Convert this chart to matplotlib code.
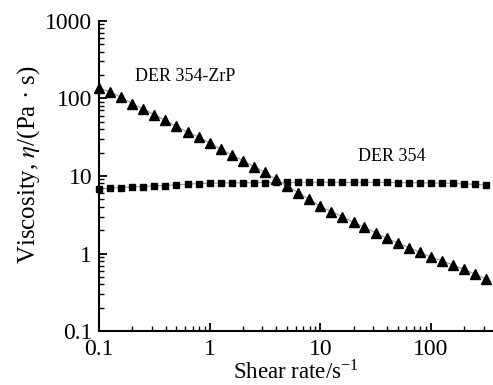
import numpy as np
import matplotlib
matplotlib.use("Agg")
import matplotlib.pyplot as plt
from matplotlib.ticker import LogLocator, FuncFormatter, NullFormatter

plt.rcParams["font.family"] = ["Liberation Serif", "DejaVu Serif"]
plt.rcParams["mathtext.fontset"] = "stix"

# shear rate, 10 points per decade from 0.1 to ~316 1/s
shear_rate = [0.1, 0.126, 0.158, 0.2, 0.251, 0.316, 0.398, 0.501, 0.631, 0.794,
              1.0, 1.26, 1.58, 2.0, 2.51, 3.16, 3.98, 5.01, 6.31, 7.94,
              10.0, 12.6, 15.8, 20.0, 25.1, 31.6, 39.8, 50.1, 63.1, 79.4,
              100.0, 126.0, 158.0, 200.0, 251.0, 316.0]

# DER 354 (squares)
visc_der354 = [6.8, 6.95, 7.08, 7.23, 7.30, 7.45, 7.52, 7.67, 7.84, 7.98,
               8.07, 8.1, 8.14, 8.17, 8.2, 8.22, 8.24, 8.25, 8.26, 8.27,
               8.27, 8.27, 8.27, 8.27, 8.26, 8.25, 8.24, 8.22, 8.2, 8.17,
               8.12, 8.07, 8.0, 7.9, 7.8, 7.65]

# DER 354-ZrP (triangles)
visc_zrp = [136, 121, 103, 85.5, 73, 61.5, 52, 43.5, 36.8, 31.7,
            26.5, 22.2, 18.7, 15.8, 13.2, 11.1, 9.1, 7.52, 6.11, 5.01,
            4.07, 3.47, 2.99, 2.53, 2.18, 1.86, 1.57, 1.38, 1.19, 1.04,
            0.90, 0.81, 0.71, 0.625, 0.543, 0.469]

fig = plt.figure(figsize=(4.93, 3.85), dpi=100)
ax = fig.add_axes([0.201, 0.140, 0.799, 0.806])

line_kw = dict(color="#9a9a9a", lw=0.8, markerfacecolor="black",
               markeredgecolor="black", clip_on=False, zorder=3)
ax.plot(shear_rate, visc_der354, marker="s", markersize=4.8, **line_kw)
ax.plot(shear_rate, visc_zrp, marker="^", markersize=6.6, **line_kw)

ax.set_xscale("log")
ax.set_yscale("log")
ax.set_xlim(0.1, 365)
ax.set_ylim(0.1, 1000)

fmt = FuncFormatter(lambda v, p: "%g" % v)
ax.xaxis.set_major_locator(LogLocator(base=10))
ax.yaxis.set_major_locator(LogLocator(base=10))
ax.xaxis.set_minor_locator(LogLocator(base=10, subs=np.arange(2, 10)))
ax.yaxis.set_minor_locator(LogLocator(base=10, subs=np.arange(2, 10)))
ax.xaxis.set_major_formatter(fmt)
ax.yaxis.set_major_formatter(fmt)
ax.xaxis.set_minor_formatter(NullFormatter())
ax.yaxis.set_minor_formatter(NullFormatter())

for s in ["top", "right"]:
    ax.spines[s].set_visible(False)
for s in ["left", "bottom"]:
    ax.spines[s].set_linewidth(1.5)

ax.tick_params(which="major", direction="in", length=6, width=1.3,
               labelsize=17)
ax.tick_params(axis="x", which="major", pad=6)
ax.tick_params(axis="y", which="major", pad=5)
ax.tick_params(which="minor", direction="in", length=3.5, width=1.0)

ax.set_xlabel("Shear rate/s$^{\\mathregular{-1}}$", fontsize=16.5, labelpad=0)
ax.set_ylabel("Viscosity, $\\eta$/(Pa · s)", fontsize=18)
ax.yaxis.set_label_coords(-0.145, 0.537)

ax.text(0.60, 190, "DER 354-ZrP", fontsize=13, ha="center", va="center")
ax.text(44.6, 17.7, "DER 354", fontsize=13, ha="center", va="center")

fig.savefig("out.png", dpi=100)
